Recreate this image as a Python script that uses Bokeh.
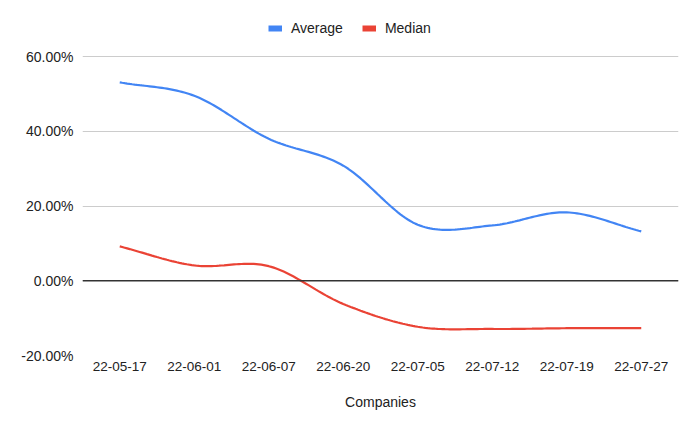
import numpy as np
from bokeh.plotting import figure
from bokeh.models import (Range1d, FixedTicker, NumeralTickFormatter, Span,
                          Legend, LegendItem)
from bokeh.embed import file_html
from bokeh.resources import INLINE

# ---- data -------------------------------------------------------------
dates = ["22-05-17", "22-06-01", "22-06-07", "22-06-20",
         "22-07-05", "22-07-12", "22-07-19", "22-07-27"]
average = [0.531, 0.495, 0.380, 0.308, 0.150, 0.148, 0.183, 0.132]
median = [0.092, 0.041, 0.039, -0.062, -0.123, -0.129, -0.127, -0.127]
y_ticks = [-0.2, 0.0, 0.2, 0.4, 0.6]
x_title = "Companies"
series_names = ["Average", "Median"]
colors = ["#4285f4", "#ea4335"]


def smooth(xs, ys, n=30):
    """Catmull-Rom style smoothing through the data points (drawing only)."""
    xs = np.asarray(xs, float)
    ys = np.asarray(ys, float)
    k = len(xs)
    mx = np.zeros(k)
    my = np.zeros(k)
    for i in range(k):
        a = max(i - 1, 0)
        b = min(i + 1, k - 1)
        mx[i] = (xs[b] - xs[a]) / (b - a)
        my[i] = (ys[b] - ys[a]) / (b - a)
    ox, oy = [], []
    for i in range(k - 1):
        t = np.linspace(0, 1, n, endpoint=(i == k - 2))
        h00 = 2 * t**3 - 3 * t**2 + 1
        h10 = t**3 - 2 * t**2 + t
        h01 = -2 * t**3 + 3 * t**2
        h11 = t**3 - t**2
        ox.extend(h00 * xs[i] + h10 * mx[i] + h01 * xs[i + 1] + h11 * mx[i + 1])
        oy.extend(h00 * ys[i] + h10 * my[i] + h01 * ys[i + 1] + h11 * my[i + 1])
    return ox, oy


xpos = [i + 0.5 for i in range(len(dates))]

FONT = "Liberation Sans"
TXT = "#222222"

# frame extends above the top gridline to leave room for the legend
p = figure(width=684, height=417, output_backend="svg", toolbar_location=None,
           x_range=Range1d(0, len(dates)), y_range=Range1d(-0.2, 0.75),
           min_border_left=82, min_border_right=6, min_border_top=0,
           min_border_bottom=62)
p.outline_line_color = None
p.background_fill_color = "white"
p.border_fill_color = "white"
# an off-screen range used only for the legend swatch renderers
p.extra_y_ranges = {"swatch": Range1d(100, 101)}

# axes
p.yaxis.ticker = FixedTicker(ticks=y_ticks)
p.yaxis.formatter = NumeralTickFormatter(format="0.00%")
p.yaxis.axis_line_color = None
p.yaxis.major_tick_line_color = None
p.yaxis.minor_tick_line_color = None
p.yaxis.major_tick_out = 0
p.yaxis.minor_tick_out = 0
p.yaxis.major_label_standoff = 9
p.yaxis.major_label_text_font = FONT
p.yaxis.major_label_text_font_size = "14px"
p.yaxis.major_label_text_color = TXT

p.xaxis.ticker = FixedTicker(ticks=xpos)
p.xaxis.major_label_overrides = {x: d for x, d in zip(xpos, dates)}
p.xaxis.axis_line_color = None
p.xaxis.major_tick_line_color = None
p.xaxis.minor_tick_line_color = None
p.xaxis.major_tick_out = 0
p.xaxis.minor_tick_out = 0
p.xaxis.major_label_standoff = 6
p.xaxis.major_label_text_font = FONT
p.xaxis.major_label_text_font_size = "13.5px"
p.xaxis.major_label_text_color = TXT
p.xaxis.axis_label = x_title
p.xaxis.axis_label_text_font = FONT
p.xaxis.axis_label_text_font_size = "14px"
p.xaxis.axis_label_text_font_style = "normal"
p.xaxis.axis_label_text_color = TXT
p.xaxis.axis_label_standoff = 20

p.xgrid.grid_line_color = None
p.ygrid.grid_line_color = "#cccccc"
p.ygrid.grid_line_width = 1

p.add_layout(Span(location=0, dimension="width", line_color="#333333",
                  line_width=1.3))

# series
items = []
for name, vals, col in zip(series_names, [average, median], colors):
    sx, sy = smooth(xpos, vals)
    p.line(sx, sy, line_color=col, line_width=2.2)
    swatch = p.line(xpos, vals, line_color=col, line_width=6,
                    y_range_name="swatch")
    items.append(LegendItem(label=name, renderers=[swatch]))

legend = Legend(items=items, orientation="horizontal", location=(186, 319),
                padding=0, margin=0, spacing=19, label_standoff=9,
                glyph_width=14, glyph_height=16, label_height=16,
                label_text_font=FONT, label_text_font_size="14px",
                label_text_color=TXT, border_line_color=None,
                background_fill_alpha=0)
p.add_layout(legend, "center")

open("out.html", "w").write(file_html(p, INLINE))
